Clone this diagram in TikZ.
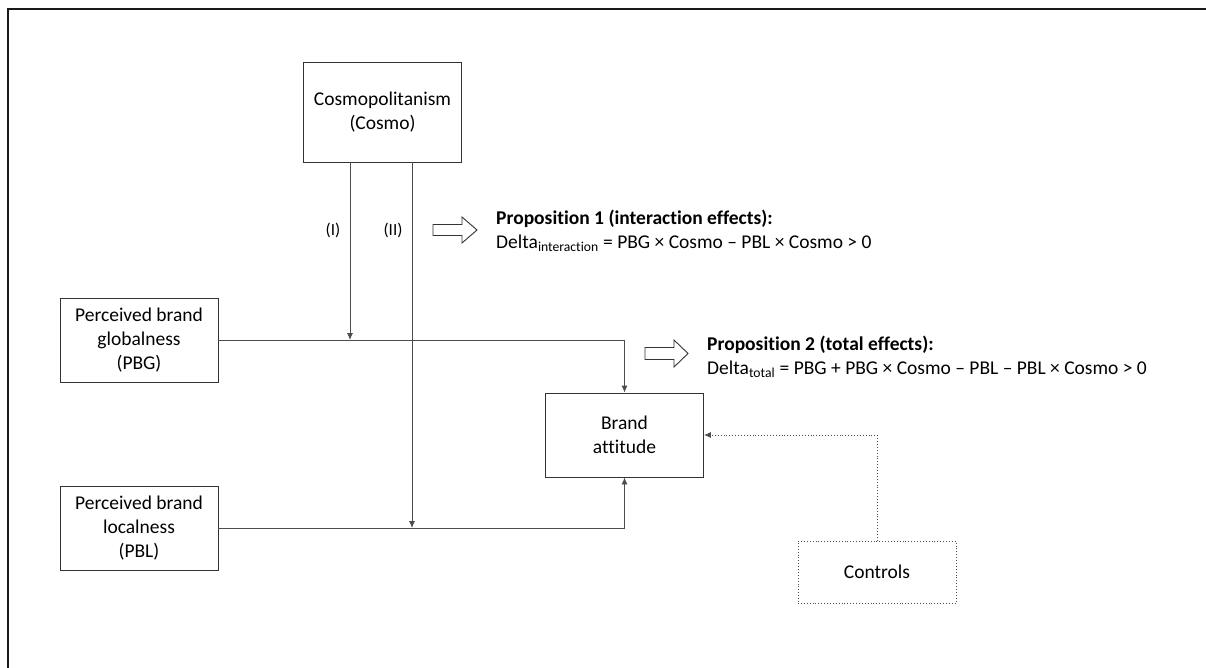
\documentclass[tikz,border=0pt]{standalone}
\usepackage{fontspec}
\setmainfont{Carlito}[Ligatures=NoCommon]
\usetikzlibrary{arrows.meta,positioning}

\tikzset{
    varbox/.style={draw=black!80, line width=0.9pt, minimum width=158pt, minimum height=84pt,
        align=center, inner sep=2pt, font=\fontsize{19.5}{24}\selectfont},
    link/.style={draw=black!70, line width=0.9pt},
    linkarrow/.style={link, -{Latex[length=7pt,width=6pt]}},
    ctrlarrow/.style={draw=black!70, line width=0.9pt, dotted, -{Latex[length=7pt,width=6pt]}},
    blockarrow/.style={draw=black!80, line width=0.9pt, fill=white},
    proptext/.style={anchor=west, align=left, inner sep=0pt, font=\fontsize{19.5}{24}\selectfont},
    modlabel/.style={font=\fontsize{17}{20}\selectfont}
}

\begin{document}
\begin{tikzpicture}[x=1pt, y=-1pt]
    \useasboundingbox (0,0) rectangle (1206,668);

    % Frame
    \draw[line width=1.3pt, black!90] (8,668) -- (8,9) -- (1206,9);

    % Variables
    \node[varbox, minimum height=100pt] (cosmo) at (382.5,112) {Cosmopolitanism\\(Cosmo)};
    \node[varbox] (pbg) at (139,340) {Perceived brand\\globalness\\(PBG)};
    \node[varbox] (pbl) at (139,528) {Perceived brand\\localness\\(PBL)};
    \node[varbox] (att) at (624.5,435) {Brand\\attitude};
    \node[varbox, draw=black!70, dotted, minimum height=62pt] (ctl) at (877,572) {Controls};

    % Main effects
    \draw[linkarrow] (pbg.east) -| (att.north);
    \draw[linkarrow] (pbl.east) -| (att.south);

    % Moderation by Cosmo
    \coordinate (modI) at (350,340);
    \coordinate (modII) at (412,528);
    \draw[linkarrow] (cosmo.south -| modI) -- (modI);
    \draw[linkarrow] (cosmo.south -| modII) -- (modII);
    \node[modlabel] (labI) at (333,230) {(I)};
    \node[modlabel] (labII) at (393,230) {(II)};

    % Controls
    \draw[ctrlarrow] (ctl.north) |- (att.east);

    % Propositions
    \draw[blockarrow] (433,224.5) -- (462,224.5) -- (462,217) -- (477,230) -- (462,243)
        -- (462,235.5) -- (433,235.5) -- cycle;
    \node[proptext] (prop1) at (496,231) {\textbf{Proposition 1 (interaction effects):}\\
        Delta\textsubscript{interaction} = PBG × Cosmo – PBL × Cosmo > 0};
    \draw[blockarrow] (645,347.5) -- (674,347.5) -- (674,340) -- (688,353.5) -- (674,367)
        -- (674,359.5) -- (645,359.5) -- cycle;
    \node[proptext] (prop2) at (707,357) {\textbf{Proposition 2 (total effects):}\\
        Delta\textsubscript{total} = PBG + PBG × Cosmo – PBL – PBL × Cosmo > 0};
\end{tikzpicture}
\end{document}
